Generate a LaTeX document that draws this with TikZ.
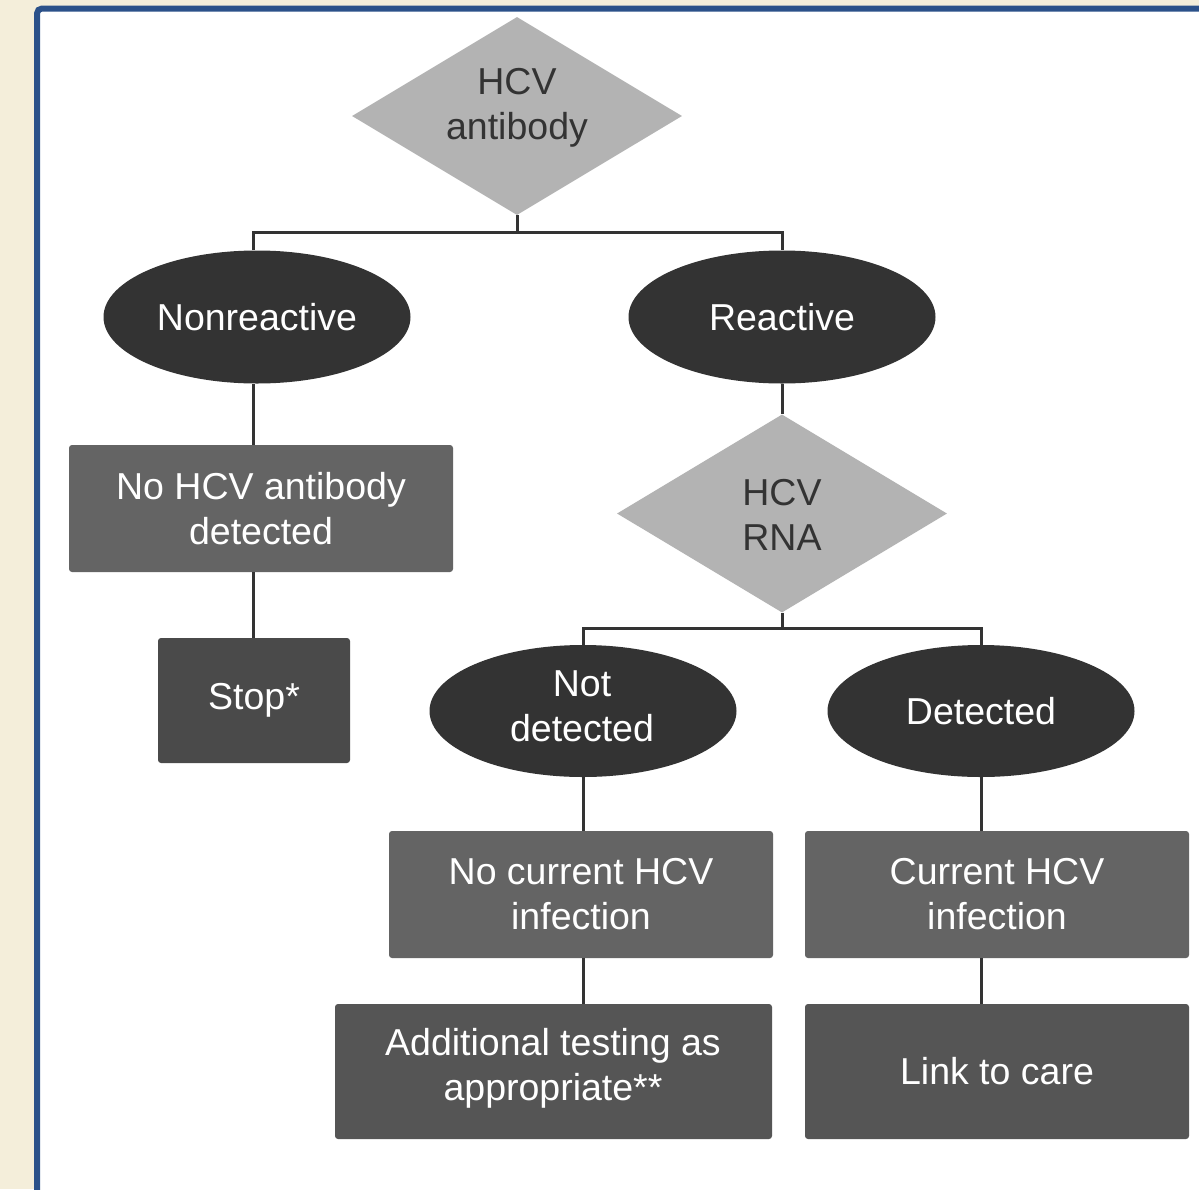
\documentclass[tikz,border=0pt]{standalone}
\usepackage{fontspec}
\setmainfont{Liberation Sans}
\usetikzlibrary{shapes.geometric}
\definecolor{beige}{HTML}{F4EEDA}
\definecolor{framec}{HTML}{2B5189}
\definecolor{diam}{HTML}{B3B3B3}
\definecolor{ell}{HTML}{333333}
\definecolor{boxlight}{HTML}{646464}
\definecolor{boxdark}{HTML}{555555}
\definecolor{boxstop}{HTML}{4A4A4A}
\definecolor{txtdark}{HTML}{333333}
\tikzset{
  lbl/.style={font=\fontsize{37.5}{45}\selectfont, align=center, inner sep=0pt},
  dia/.style={lbl, shape=diamond, aspect=1.667, fill=diam, text=txtdark, minimum width=330pt, minimum height=198pt},
  ovl/.style={lbl, shape=ellipse, fill=ell, text=white, minimum width=307pt, minimum height=133pt},
  lbox/.style={lbl, rectangle, rounded corners=3pt, fill=boxlight, text=white, minimum height=127pt},
  dbox/.style={lbl, rectangle, rounded corners=3pt, fill=boxdark, text=white, minimum height=135pt},
  conn/.style={draw=ell, line width=3pt},
}
\begin{document}
\begin{tikzpicture}[x=1pt,y=-1pt]
\useasboundingbox (0,0) rectangle (1199,1189);
\clip (0,0) rectangle (1199,1189);
\fill[beige] (0,0) rectangle (1199,1189);
\fill[white] (37,8.5) rectangle (1220,1220);
\draw[framec, line width=6pt, rounded corners=5pt] (37,1220) |- (1220,8.5);

\node[dia] (d1) at (517,116) {};
\node[lbl, text=txtdark] (d1t) at (517,108) {HCV\\antibody};
\node[ovl] (nonr) at (257,317) {Nonreactive};
\node[ovl] (reac) at (782,317) {Reactive};
\node[lbox, minimum width=384pt] (noab) at (261,508.5) {No HCV antibody\\detected};
\node[lbox, fill=boxstop, minimum width=192pt, minimum height=125pt] (stop) at (254,700.5) {Stop*};
\node[dia] (d2) at (782,513.5) {};
\node[lbl, text=txtdark] (d2t) at (782,515) {HCV\\RNA};
\node[ovl, minimum height=132pt] (notd) at (583,711) {};
\node[lbl, text=white] (notdt) at (582,706) {Not\\detected};
\node[ovl, minimum height=132pt] (det) at (981,711) {Detected};
\node[lbox, minimum width=384pt] (nocur) at (581,894.5) {No current HCV\\infection};
\node[lbox, minimum width=384pt] (cur) at (997,894.5) {Current HCV\\infection};
\node[dbox, minimum width=437pt] (add) at (553.5,1071.5) {};
\node[lbl, text=white] (addt) at (553,1068) {Additional testing as\\appropriate**};
\node[dbox, minimum width=384pt] (link) at (997,1071.5) {Link to care};

\coordinate (j1) at (517,232);
\coordinate (j2) at (782,628);

\draw[conn] (d1.south) -- (j1);
\draw[conn] (253,250) |- (j1) -| (reac.north);
\draw[conn] (253,384) -- (253,445);
\draw[conn] (253,572) -- (253,638);
\draw[conn] (reac.south) -- (d2.north);
\draw[conn] (d2.south) -- (j2);
\draw[conn] (notd.north) |- (j2) -| (det.north);
\draw[conn] (notd.south) -- (notd.south |- nocur.north);
\draw[conn] (det.south) -- (det.south |- cur.north);
\draw[conn] (notd.south |- nocur.south) -- (notd.south |- add.north);
\draw[conn] (det.south |- cur.south) -- (det.south |- link.north);
\end{tikzpicture}
\end{document}
